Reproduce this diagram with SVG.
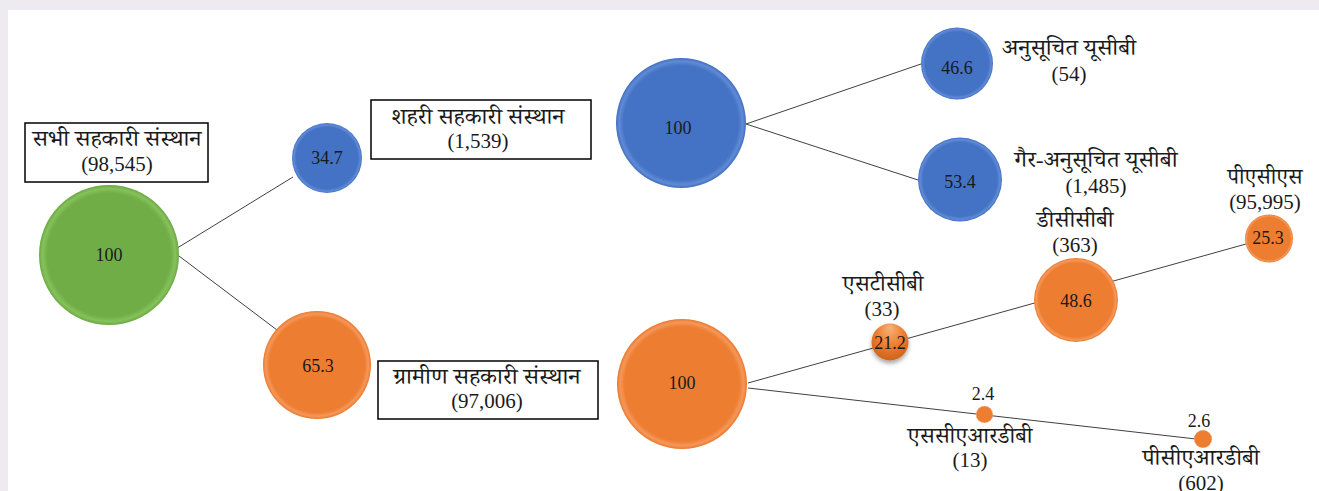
<svg xmlns="http://www.w3.org/2000/svg" width="1319" height="491" viewBox="0 0 1319 491">
<style>
  text { font-family: "Liberation Serif", "Noto Serif Devanagari", "Noto Sans Devanagari", serif; fill: #1a1a1a; text-anchor: middle; }
  .num { font-size: 18px; }
  .lbl { font-size: 21px; }
  .dev { font-size: 22px; }
  .box { fill: #ffffff; stroke: #000000; stroke-width: 1.5; }
  .conn { stroke: #404040; stroke-width: 1; fill: none; }
</style>
<defs>
  <radialGradient id="gGreen" cx="50%" cy="50%" r="50%">
    <stop offset="0" stop-color="#70ad47"/>
    <stop offset="0.88" stop-color="#70ad47"/>
    <stop offset="0.95" stop-color="#86c25b"/>
    <stop offset="1" stop-color="#6ca844"/>
  </radialGradient>
  <radialGradient id="gBlue" cx="50%" cy="50%" r="50%">
    <stop offset="0" stop-color="#4472c4"/>
    <stop offset="0.88" stop-color="#4472c4"/>
    <stop offset="0.95" stop-color="#5f8ad6"/>
    <stop offset="1" stop-color="#426fbf"/>
  </radialGradient>
  <radialGradient id="gOrange" cx="50%" cy="50%" r="50%">
    <stop offset="0" stop-color="#ed7d31"/>
    <stop offset="0.88" stop-color="#ed7d31"/>
    <stop offset="0.95" stop-color="#f5975a"/>
    <stop offset="1" stop-color="#e9792e"/>
  </radialGradient>
  <radialGradient id="gBall" cx="50%" cy="35%" r="60%" fx="50%" fy="10%">
    <stop offset="0" stop-color="#f8b47a"/>
    <stop offset="0.6" stop-color="#ed7d31"/>
    <stop offset="1" stop-color="#d2661d"/>
  </radialGradient>
  <filter id="shadow" x="-50%" y="-50%" width="200%" height="200%">
    <feDropShadow dx="0" dy="3" stdDeviation="2" flood-color="#000" flood-opacity="0.35"/>
  </filter>
</defs>
<rect x="0" y="0" width="1319" height="491" fill="#eeebf0"/>
<rect x="8" y="10" width="1311" height="481" fill="#ffffff"/>

<g id="connectors">
  <line class="conn" x1="174" y1="250" x2="293" y2="177"/>
  <line class="conn" x1="179" y1="256" x2="277" y2="330"/>
  <line class="conn" x1="746" y1="124" x2="921" y2="64"/>
  <line class="conn" x1="746" y1="124" x2="918" y2="180"/>
  <line class="conn" x1="748" y1="383" x2="1246" y2="244"/>
  <line class="conn" x1="748" y1="388" x2="1196" y2="439"/>
</g>

<g id="all-societies">
  <circle cx="109" cy="255" r="70" fill="url(#gGreen)"/>
  <text class="num" x="109" y="261">100</text>
  <rect class="box" x="25" y="123" width="183" height="59"/>
  <text class="dev" x="117" y="146" textLength="169" lengthAdjust="spacingAndGlyphs">सभी सहकारी संस्थान</text>
  <text class="lbl" x="117" y="171">(98,545)</text>
</g>

<g id="urban">
  <circle cx="327" cy="158" r="35" fill="url(#gBlue)"/>
  <text class="num" x="327" y="164">34.7</text>
  <rect class="box" x="371" y="100" width="220" height="59"/>
  <text class="dev" x="478" y="124" textLength="173" lengthAdjust="spacingAndGlyphs">शहरी सहकारी संस्थान</text>
  <text class="lbl" x="478" y="148">(1,539)</text>
</g>

<g id="urban-100">
  <circle cx="681" cy="123" r="65" fill="url(#gBlue)"/>
  <text class="num" x="678" y="134">100</text>
</g>

<g id="scheduled-ucb">
  <circle cx="957" cy="63.5" r="36" fill="url(#gBlue)"/>
  <text class="num" x="957" y="74">46.6</text>
  <text class="dev" x="1069" y="55" textLength="134" lengthAdjust="spacingAndGlyphs">अनुसूचित यूसीबी</text>
  <text class="lbl" x="1069" y="81">(54)</text>
</g>

<g id="nonscheduled-ucb">
  <circle cx="960" cy="179.5" r="42" fill="url(#gBlue)"/>
  <text class="num" x="960" y="188">53.4</text>
  <text class="dev" x="1096" y="167" textLength="163" lengthAdjust="spacingAndGlyphs">गैर-अनुसूचित यूसीबी</text>
  <text class="lbl" x="1096" y="193">(1,485)</text>
</g>

<g id="rural">
  <circle cx="317" cy="365" r="54" fill="url(#gOrange)"/>
  <text class="num" x="318" y="372">65.3</text>
  <rect class="box" x="378" y="361" width="220" height="58"/>
  <text class="dev" x="487" y="384" textLength="187" lengthAdjust="spacingAndGlyphs">ग्रामीण सहकारी संस्थान</text>
  <text class="lbl" x="487" y="408">(97,006)</text>
</g>

<g id="rural-100">
  <circle cx="682" cy="384" r="65" fill="url(#gOrange)"/>
  <text class="num" x="682" y="389">100</text>
</g>

<g id="stcb">
  <circle cx="890" cy="342" r="18.5" fill="url(#gBall)" filter="url(#shadow)"/>
  <text class="num" x="890" y="349">21.2</text>
  <text class="dev" x="883" y="291" textLength="81" lengthAdjust="spacingAndGlyphs">एसटीसीबी</text>
  <text class="lbl" x="882" y="316">(33)</text>
</g>

<g id="dccb">
  <circle cx="1076" cy="300" r="42" fill="url(#gOrange)"/>
  <text class="num" x="1076" y="307">48.6</text>
  <text class="dev" x="1075" y="227" textLength="77" lengthAdjust="spacingAndGlyphs">डीसीसीबी</text>
  <text class="lbl" x="1075" y="252">(363)</text>
</g>

<g id="pacs">
  <circle cx="1269" cy="238.5" r="24" fill="url(#gOrange)"/>
  <text class="num" x="1268" y="244">25.3</text>
  <text class="dev" x="1265" y="184" textLength="75" lengthAdjust="spacingAndGlyphs">पीएसीएस</text>
  <text class="lbl" x="1265" y="209">(95,995)</text>
</g>

<g id="scardb">
  <circle cx="984.5" cy="414.5" r="8.5" fill="url(#gOrange)"/>
  <text class="num" x="983" y="400">2.4</text>
  <text class="dev" x="970" y="443" textLength="125" lengthAdjust="spacingAndGlyphs">एससीएआरडीबी</text>
  <text class="lbl" x="970" y="467">(13)</text>
</g>

<g id="pcardb">
  <circle cx="1203" cy="439" r="9" fill="url(#gOrange)"/>
  <text class="num" x="1199" y="427">2.6</text>
  <text class="dev" x="1201" y="465" textLength="117" lengthAdjust="spacingAndGlyphs">पीसीएआरडीबी</text>
  <text class="lbl" x="1201" y="490">(602)</text>
</g>
</svg>
